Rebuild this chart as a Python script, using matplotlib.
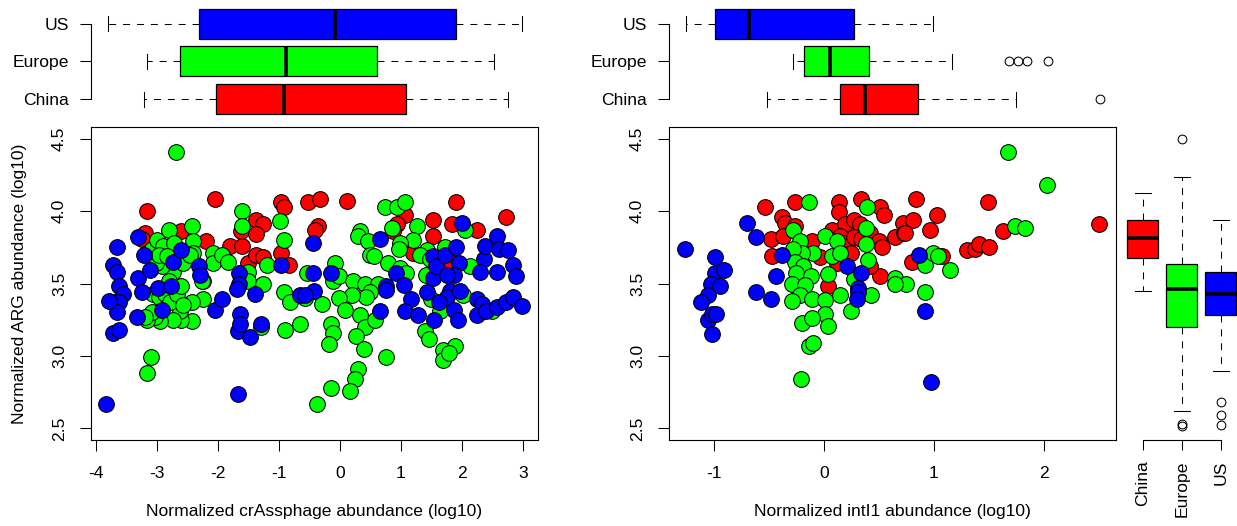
import matplotlib
matplotlib.use("Agg")
import matplotlib.pyplot as plt

plt.rcParams["font.family"] = ["Liberation Sans", "DejaVu Sans"]
plt.rcParams["font.size"] = 12.6
plt.rcParams["lines.scale_dashes"] = False

# ---- scatter data: crAssphage vs ARG (left panel) ----
china_crass_x = [-3.16, -3.20, -3.25, -2.05, -2.60, -2.20, -2.24, -1.81, -1.60, -1.62,
                 -1.37, -1.26, -1.38, -1.51, -1.37, -1.26, -0.97, -0.91, -0.97, -0.84,
                 -0.52, -0.33, 0.12, -0.36, -0.41, 1.07, 0.94, 0.87, 1.52, 1.90,
                 1.83, 2.24, 2.72, 1.53, 1.20, 1.83]
china_crass_y = [4.00, 3.85, 3.81, 4.08, 3.86, 3.79, 3.52, 3.76, 3.76, 3.86,
                 3.94, 3.91, 3.84, 3.64, 3.70, 3.68, 4.06, 4.03, 3.71, 3.63,
                 4.06, 4.08, 4.07, 3.90, 3.87, 3.97, 3.91, 3.86, 3.94, 4.06,
                 3.91, 3.87, 3.96, 3.83, 3.71, 3.64]

europe_crass_x = [-2.69, -3.10, -3.17, -3.17, -3.09, -3.00, -2.90, -2.80, -2.72, -2.69,
                  -2.42, -2.41, -2.41, -2.27, -2.24, -2.42, -2.43, -2.60, -2.62, -2.73,
                  -2.95, -3.03, -3.17, -3.09, -3.06, -2.96, -2.87, -2.79, -2.68, -2.60,
                  -2.58, -2.73, -2.81, -2.91, -3.01, -2.96, -2.84, -2.57, -2.46, -2.08,
                  -2.08, -1.94, -1.83, -1.60, -1.60, -1.51, -1.51, -1.26, -1.19, -1.30,
                  -0.99, -0.91, -0.91, -0.82, -0.90, -0.65, -0.54, -0.08, -0.11, -0.01,
                  0.21, 0.41, 0.63, 0.49, 0.43, 0.19, -0.01, 0.08, 0.33, 0.41,
                  0.57, 0.26, 0.39, -0.14, -0.12, -0.18, 0.75, 0.30, 0.25, 0.16,
                  -0.15, -0.37, -0.30, -0.57, 1.39, 1.46, 1.69, 1.89, 1.69, 1.78,
                  1.41, 2.01, 2.49, 1.50, 1.64, 0.74, 0.93, 1.07, 0.33, 0.30,
                  0.46, 0.85, 1.26, 1.19, 0.98, 0.97, 0.49, 0.55, 0.78, 0.98,
                  1.09, 1.42, 1.31, 1.48, 1.72, 2.13, 2.05, -3.20]
europe_crass_y = [4.41, 2.99, 2.88, 3.71, 3.74, 3.80, 3.76, 3.87, 3.78, 3.66,
                  3.90, 3.79, 3.71, 3.52, 3.39, 3.37, 3.24, 3.25, 3.31, 3.25,
                  3.24, 3.27, 3.25, 3.30, 3.43, 3.41, 3.43, 3.37, 3.43, 3.48,
                  3.35, 3.58, 3.52, 3.62, 3.64, 3.70, 3.69, 3.64, 3.70, 3.71,
                  3.64, 3.70, 3.65, 4.00, 3.90, 3.58, 3.52, 3.50, 3.63, 3.20,
                  3.93, 3.80, 3.44, 3.375, 3.18, 3.22, 3.57, 3.64, 3.52, 3.55,
                  3.52, 3.50, 3.50, 3.44, 3.41, 3.42, 3.40, 3.32, 3.28, 3.20,
                  3.25, 3.14, 3.05, 3.22, 3.16, 3.08, 2.99, 2.91, 2.84, 2.76,
                  2.78, 2.67, 3.36, 3.40, 3.17, 3.12, 3.04, 3.07, 2.97, 3.02,
                  3.56, 3.42, 3.31, 3.39, 3.31, 4.03, 4.03, 4.06, 3.86, 3.83,
                  3.79, 3.88, 3.90, 3.80, 3.78, 3.74, 3.70, 3.69, 3.64, 3.61,
                  3.57, 3.73, 3.70, 3.67, 3.75, 3.62, 3.87, 3.27]

us_crass_x = [-3.83, -1.68, -3.31, -3.65, -3.72, -3.65, -3.63, -3.56, -3.72, -3.63,
              -3.66, -3.72, -3.63, -3.31, -3.25, -3.33, -3.22, -3.11, -2.98, -2.91,
              -2.77, -2.73, -2.60, -2.31, -2.29, -2.05, -1.94, -1.65, -1.65, -1.69,
              -1.64, -1.68, -1.64, -1.48, -1.39, -1.29, -0.96, -0.66, -0.44, -0.44,
              -0.14, -0.43, -0.57, 0.66, 0.92, 1.05, 0.75, 0.76, 0.66, 1.16,
              1.07, 1.28, 1.54, 1.42, 1.53, 1.52, 1.58, 1.72, 1.90, 1.95,
              1.87, 1.75, 1.80, 1.75, 1.63, 1.87, 1.93, 1.97, 2.24, 2.33,
              2.24, 2.39, 2.57, 2.72, 2.84, 2.98, 2.36, 2.37, 2.57, 2.60,
              2.76, 2.84, 2.88, 2.57, 2.30, 1.995, -3.78]
us_crass_y = [2.67, 2.74, 3.82, 3.75, 3.63, 3.58, 3.48, 3.43, 3.375, 3.37,
              3.30, 3.156, 3.18, 3.535, 3.44, 3.27, 3.70, 3.59, 3.47, 3.32,
              3.485, 3.65, 3.73, 3.62, 3.56, 3.32, 3.39, 3.57, 3.50, 3.46,
              3.29, 3.17, 3.22, 3.13, 3.43, 3.22, 3.63, 3.42, 3.78, 3.57,
              3.57, 3.45, 3.42, 3.81, 3.57, 3.49, 3.48, 3.455, 3.31, 3.39,
              3.31, 3.28, 3.25, 3.44, 3.54, 3.69, 3.62, 3.70, 3.75, 3.64,
              3.56, 3.56, 3.45, 3.41, 3.37, 3.32, 3.25, 3.45, 3.39, 3.36,
              3.28, 3.31, 3.34, 3.37, 3.41, 3.345, 3.67, 3.76, 3.83, 3.74,
              3.73, 3.63, 3.55, 3.58, 3.58, 3.92, 3.38]

# ---- scatter data: intI1 vs ARG (right panel) ----
china_int_x = [-0.54, -0.26, 0.14, 0.14, 0.34, 0.51, 0.55, 0.84, 1.03, -0.38,
               -0.35, -0.26, -0.48, -0.37, -0.47, 0.07, -0.11, -0.04, 0.19, 0.27,
               0.33, 0.15, 0.18, 0.27, 0.34, 0.42, 0.50, 0.53, 0.65, 0.72,
               0.73, 0.81, 0.96, 0.80, 0.51, 0.04, 0.25, 0.42, 0.12, 1.49,
               0.74, 1.63, 2.50, 1.30, 1.37, 1.41, 1.50, 1.07]
china_int_y = [4.03, 4.06, 4.06, 3.995, 4.08, 4.03, 3.97, 4.08, 3.97, 3.96,
               3.92, 3.90, 3.81, 3.83, 3.69, 3.87, 3.79, 3.68, 3.91, 3.94,
               3.91, 3.83, 3.78, 3.82, 3.81, 3.85, 3.79, 3.75, 3.82, 3.92,
               3.85, 3.94, 3.87, 3.65, 3.55, 3.48, 3.71, 3.62, 3.64, 4.06,
               3.85, 3.86, 3.91, 3.73, 3.74, 3.77, 3.75, 3.69]

europe_int_x = [-0.14, 0.39, -0.28, -0.22, 0.01, 0.12, -0.10, -0.20, -0.28, 0.07,
                0.15, 0.38, 0.38, 0.40, -0.26, -0.19, -0.25, -0.12, 0.04, -0.29,
                -0.17, -0.22, -0.11, -0.29, 0.01, 0.15, 0.25, 0.43, 0.65, 0.75,
                0.65, 0.92, 0.92, 0.99, 1.04, 0.01, 0.04, -0.20, -0.11, -0.14,
                -0.10, -0.21, 1.676, 2.03, 1.74, 1.83, 1.15, 0.27]
europe_int_y = [4.06, 4.03, 3.87, 3.79, 3.83, 3.79, 3.71, 3.71, 3.74, 3.69,
                3.71, 3.88, 3.77, 3.66, 3.65, 3.62, 3.575, 3.55, 3.565, 3.50,
                3.49, 3.42, 3.39, 3.38, 3.385, 3.42, 3.31, 3.42, 3.54, 3.50,
                3.50, 3.44, 3.63, 3.71, 3.69, 3.29, 3.21, 3.23, 3.26, 3.07,
                3.09, 2.84, 4.41, 4.18, 3.90, 3.88, 3.59, 3.53]

us_int_x = [-1.26, -0.99, -0.99, -0.91, -1.03, -0.945, -1.05, -1.12, -1.05, -1.02,
            -0.98, -1.02, -0.70, -0.62, -0.62, -0.48, -0.44, -0.38, 0.21, 0.34,
            0.31, 0.31, 0.30, 0.86, 0.92, 0.97]
us_int_y = [3.74, 3.68, 3.575, 3.59, 3.50, 3.48, 3.42, 3.37, 3.25, 3.29,
            3.29, 3.15, 3.92, 3.82, 3.44, 3.39, 3.55, 3.70, 3.62, 3.57,
            3.47, 3.44, 3.39, 3.70, 3.31, 2.82]

# ---- boxplot summaries (whisker low, Q1, median, Q3, whisker high) ----
groups = ["China", "Europe", "US"]
crass_box = [[-3.21, -2.03, -0.925, 1.09, 2.76],
             [-3.17, -2.62, -0.885, 0.60, 2.53],
             [-3.81, -2.31, -0.09, 1.90, 2.98]]
crass_fliers = [[], [], []]
int_box = [[-0.52, 0.145, 0.37, 0.856, 1.75],
           [-0.279, -0.18, 0.055, 0.406, 1.166],
           [-1.25, -0.99, -0.68, 0.27, 0.994]]
int_fliers = [[2.51], [1.68, 1.76, 1.85, 2.04], []]
arg_box = [[3.448, 3.678, 3.816, 3.938, 4.126],
           [2.62, 3.202, 3.462, 3.634, 4.237],
           [2.897, 3.283, 3.425, 3.58, 3.94]]
arg_fliers = [[], [4.50, 2.52, 2.53], [2.685, 2.593, 2.524]]

colors = ["#FF0000", "#00FF00", "#0000FF"]

W, H = 1237, 526
ARG_LIM = (2.42, 4.58)
CRASS_LIM = (-4.082, 3.246)
INT_LIM = (-1.409, 2.655)


def rect(x0, y0, x1, y1):
    return [x0 / W, 1 - y1 / H, (x1 - x0) / W, (y1 - y0) / H]


def make_stats(box, fliers):
    out = []
    for (lo, q1, med, q3, hi), fl, name in zip(box, fliers, groups):
        out.append(dict(whislo=lo, q1=q1, med=med, q3=q3, whishi=hi,
                        fliers=fl, label=name))
    return out


def draw_box(ax, box, fliers, orientation):
    res = ax.bxp(make_stats(box, fliers), positions=[1, 2, 3], widths=0.8,
                 capwidths=0.4, orientation=orientation, patch_artist=True,
                 manage_ticks=False,
                 boxprops=dict(linewidth=0.9, edgecolor="black"),
                 medianprops=dict(color="black", linewidth=2.6, solid_capstyle="butt"),
                 whiskerprops=dict(linestyle=(0, (5, 5)), linewidth=0.75, color="black"),
                 capprops=dict(linewidth=0.75, color="black"),
                 flierprops=dict(marker="o", markerfacecolor="none",
                                 markeredgecolor="black", markersize=6.3,
                                 markeredgewidth=0.75))
    for patch, c in zip(res["boxes"], colors):
        patch.set_facecolor(c)
    for s in ax.spines.values():
        s.set_visible(False)


def draw_scatter(ax, xs, ys, xlim, xticks, xlabel, ylabel=None):
    for x, y, c in zip(xs, ys, colors):
        ax.scatter(x, y, s=128, c=c, edgecolors="black", linewidths=0.75, zorder=3)
    ax.set_xlim(*xlim)
    ax.set_ylim(*ARG_LIM)
    ax.set_xticks(xticks)
    ax.set_xticklabels([str(t) for t in xticks])
    yt = [2.5, 3.0, 3.5, 4.0, 4.5]
    ax.set_yticks(yt)
    ax.set_yticklabels([f"{t:.1f}" for t in yt], rotation=90, va="center")
    ax.tick_params(axis="x", length=7.8, width=0.75, pad=11)
    ax.tick_params(axis="y", length=7.8, width=0.75, pad=9.4)
    for s in ax.spines.values():
        s.set_linewidth(0.8)
    ax.set_xlabel(xlabel)
    ax.xaxis.set_label_coords(0.5, -0.205)
    if ylabel:
        ax.set_ylabel(ylabel)
        ax.yaxis.set_label_coords(-0.1438, 0.5)


fig = plt.figure(figsize=(W / 100, H / 100), dpi=100)

# left scatter
ax1 = fig.add_axes(rect(91, 127, 538, 440))
draw_scatter(ax1, [china_crass_x, europe_crass_x, us_crass_x],
             [china_crass_y, europe_crass_y, us_crass_y],
             CRASS_LIM, [-4, -3, -2, -1, 0, 1, 2, 3],
             "Normalized crAssphage abundance (log10)",
             "Normalized ARG abundance (log10)")

# right scatter
ax2 = fig.add_axes(rect(669, 127, 1116, 440))
draw_scatter(ax2, [china_int_x, europe_int_x, us_int_x],
             [china_int_y, europe_int_y, us_int_y],
             INT_LIM, [-1, 0, 1, 2],
             "Normalized intI1 abundance (log10)")

# top boxplots
for x0, x1, box, fl, lim in [(91, 538, crass_box, crass_fliers, CRASS_LIM),
                             (669, 1116, int_box, int_fliers, INT_LIM)]:
    ax = fig.add_axes(rect(x0, 4.85, x1, 117.9))
    draw_box(ax, box, fl, "horizontal")
    ax.set_xlim(*lim)
    ax.set_ylim(0.5, 3.5)
    ax.set_xticks([])
    ax.set_yticks([1, 2, 3])
    ax.set_yticklabels(groups)
    ax.spines["left"].set_visible(True)
    ax.spines["left"].set_bounds(1, 3)
    ax.spines["left"].set_linewidth(0.8)
    ax.tick_params(axis="y", length=7.6, width=0.75, pad=8.3)
    ax.patch.set_alpha(0)

# side boxplot of ARG abundance
ax3 = fig.add_axes(rect(1123.2, 127, 1240.2, 440))
draw_box(ax3, arg_box, arg_fliers, "vertical")
ax3.set_xlim(0.5, 3.5)
ax3.set_ylim(*ARG_LIM)
ax3.set_yticks([])
ax3.set_xticks([1, 2, 3])
ax3.set_xticklabels(groups, rotation=90, ha="center", va="top")
ax3.spines["bottom"].set_visible(True)
ax3.spines["bottom"].set_bounds(1, 3)
ax3.spines["bottom"].set_linewidth(0.8)
ax3.tick_params(axis="x", length=7.3, width=0.75, pad=7.2)
ax3.patch.set_alpha(0)

fig.savefig("out.png", dpi=100)
